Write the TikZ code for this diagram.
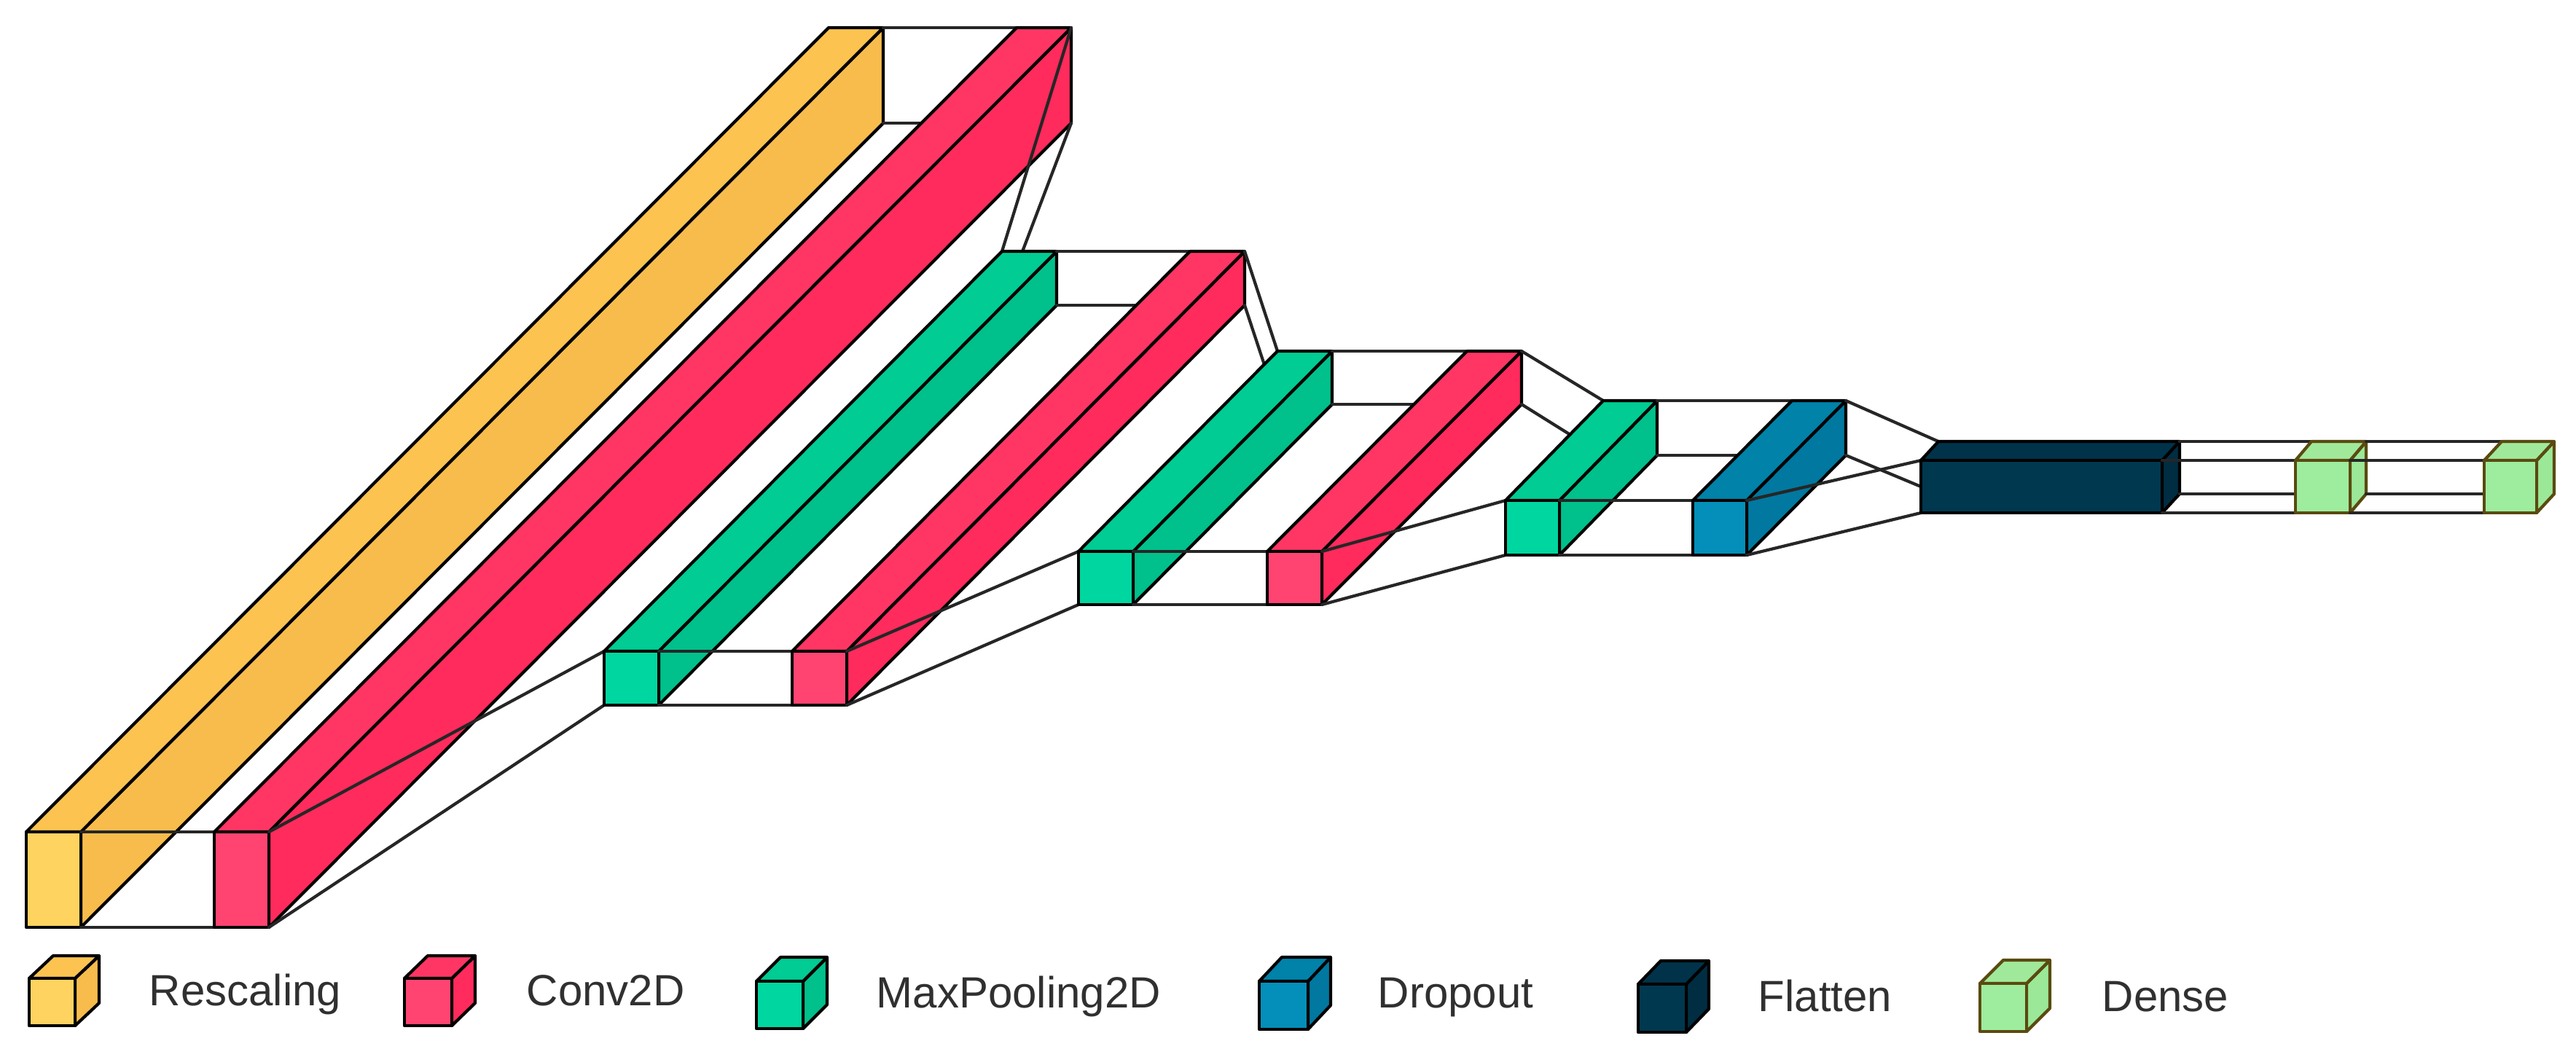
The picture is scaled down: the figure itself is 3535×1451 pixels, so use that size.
\documentclass[tikz,border=0pt]{standalone}
\usepackage{fontspec}
\setmainfont{Liberation Sans}
\definecolor{RescF}{HTML}{FFD35F}
\definecolor{RescT}{HTML}{FCC350}
\definecolor{RescS}{HTML}{F8BC4C}
\definecolor{ConvF}{HTML}{FF4471}
\definecolor{ConvT}{HTML}{FF3664}
\definecolor{ConvS}{HTML}{FF2B5C}
\definecolor{PoolF}{HTML}{00D69F}
\definecolor{PoolT}{HTML}{00CC93}
\definecolor{PoolS}{HTML}{00C08B}
\definecolor{DropF}{HTML}{038FB9}
\definecolor{DropT}{HTML}{0082A9}
\definecolor{DropS}{HTML}{0078A0}
\definecolor{FlatF}{HTML}{00384F}
\definecolor{FlatT}{HTML}{00334A}
\definecolor{FlatS}{HTML}{002D42}
\definecolor{DensF}{HTML}{9EEC9E}
\definecolor{DensT}{HTML}{A0E99B}
\definecolor{DensS}{HTML}{9BE898}
\definecolor{DensE}{HTML}{5A4A10}
\definecolor{LabelInk}{HTML}{303030}
\tikzset{
  boxface/.style={line width=1.2pt,line join=round},
  funnel/.style={draw=black!85,line width=1.2pt,line cap=round},
  legendlabel/.style={anchor=base west,inner sep=0pt,text=LabelInk,font=\fontsize{17.07}{20}\selectfont}
}
% name, x left, x right, y top, y bottom, depth x, depth y
\newcommand{\layerplace}[7]{%
  \coordinate (#1-ftl) at (#2,#4);
  \coordinate (#1-ftr) at (#3,#4);
  \coordinate (#1-fbl) at (#2,#5);
  \coordinate (#1-fbr) at (#3,#5);
  \coordinate (#1-btl) at (#2+#6,#4-#7);
  \coordinate (#1-btr) at (#3+#6,#4-#7);
  \coordinate (#1-bbl) at (#2+#6,#5-#7);
  \coordinate (#1-bbr) at (#3+#6,#5-#7);
}
% name, colour prefix, edge colour
\newcommand{\layerpaint}[3]{%
  \draw[boxface,draw=#3,fill=#2S] (#1-ftr) -- (#1-btr) -- (#1-bbr) -- (#1-fbr) -- cycle;
  \draw[boxface,draw=#3,fill=#2T] (#1-ftl) -- (#1-btl) -- (#1-btr) -- (#1-ftr) -- cycle;
  \draw[boxface,draw=#3,fill=#2F] (#1-ftl) -- (#1-ftr) -- (#1-fbr) -- (#1-fbl) -- cycle;
}
\newcommand{\funnelbetween}[2]{%
  \draw[funnel] (#1-btr) -- (#2-btl);
  \draw[funnel] (#1-bbr) -- (#2-bbl);
  \draw[funnel] (#1-ftr) -- (#2-ftl);
  \draw[funnel] (#1-fbr) -- (#2-fbl);
}
\begin{document}
\begin{tikzpicture}[x=0.01cm,y=-0.01cm]
\useasboundingbox (0,0) rectangle (3535,1451);
% layer geometry
\layerplace{a}{36}{111}{1142}{1273}{1101}{1104}
\layerplace{b}{294}{369}{1142}{1273}{1101}{1104}
\layerplace{c}{829}{904}{894}{968}{546}{549}
\layerplace{d}{1087}{1162}{894}{968}{546}{549}
\layerplace{e}{1480}{1555}{757}{830}{273}{275}
\layerplace{f}{1739}{1814}{757}{830}{274}{275}
\layerplace{g}{2066}{2140}{687}{762}{134}{137}
\layerplace{h}{2323}{2397}{687}{762}{136}{137}
\layerplace{i}{2636}{2967}{632}{704}{24}{26}
\layerplace{j}{3150}{3225}{632}{704}{22}{26}
\layerplace{k}{3409}{3481}{632}{704}{24}{26}
% layers and funnels, in painter's order
\layerpaint{a}{Resc}{black}
\funnelbetween{a}{b}
\layerpaint{b}{Conv}{black}
\funnelbetween{b}{c}
\layerpaint{c}{Pool}{black}
\funnelbetween{c}{d}
\layerpaint{d}{Conv}{black}
\funnelbetween{d}{e}
\layerpaint{e}{Pool}{black}
\funnelbetween{e}{f}
\layerpaint{f}{Conv}{black}
\funnelbetween{f}{g}
\layerpaint{g}{Pool}{black}
\funnelbetween{g}{h}
\layerpaint{h}{Drop}{black}
\funnelbetween{h}{i}
\layerpaint{i}{Flat}{black}
\funnelbetween{i}{j}
\layerpaint{j}{Dens}{DensE}
\funnelbetween{j}{k}
\layerpaint{k}{Dens}{DensE}
% legend
\layerplace{lr}{40}{103}{1343}{1408}{33}{31}
\layerplace{lc}{555}{620}{1343}{1408}{32}{31}
\layerplace{lm}{1038}{1102}{1347}{1412}{33}{33}
\layerplace{ld}{1728}{1795}{1347}{1413}{31}{33}
\layerplace{lf}{2248}{2314}{1351}{1417}{31}{32}
\layerplace{ln}{2717}{2781}{1350}{1416}{32}{32}
\layerpaint{lr}{Resc}{black}
\layerpaint{lc}{Conv}{black}
\layerpaint{lm}{Pool}{black}
\layerpaint{ld}{Drop}{black}
\layerpaint{lf}{Flat}{black}
\layerpaint{ln}{Dens}{DensE}
\node[legendlabel] (tr) at (204,1380) {Rescaling};
\node[legendlabel] (tc) at (722,1380) {Conv2D};
\node[legendlabel] (tm) at (1202,1383) {MaxPooling2D};
\node[legendlabel] (td) at (1890,1383) {Dropout};
\node[legendlabel] (tf) at (2412,1388) {Flatten};
\node[legendlabel] (tn) at (2884,1388) {Dense};
\end{tikzpicture}
\end{document}
